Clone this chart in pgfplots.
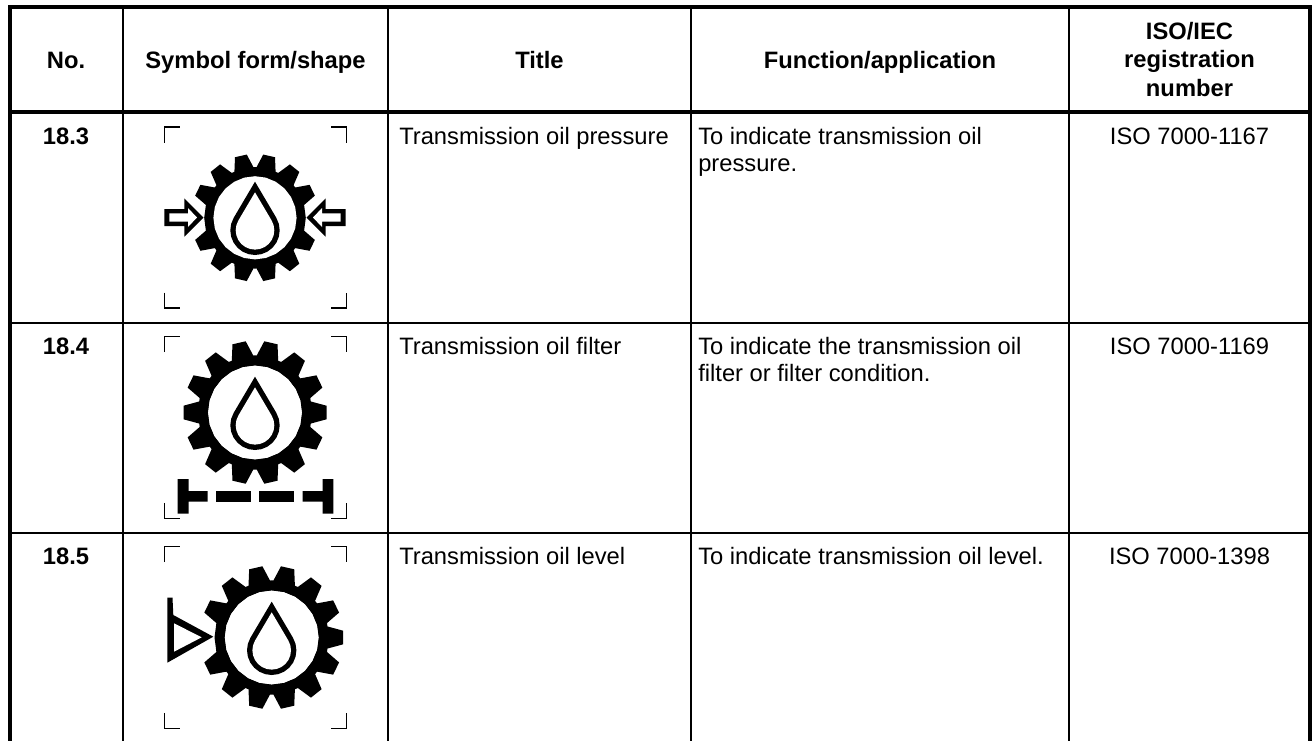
\documentclass[border=0pt]{standalone}
\usepackage{pgfplots}
\usepackage{pgfplotstable}
\usepackage{fontspec}
\setmainfont{Liberation Sans}
\pgfplotsset{compat=1.18}
% gear teeth, unit radius, y up
\pgfplotstableread{
x y
0.7542 0.1856
0.9422 0.3483
0.8598 0.5195
0.6153 0.4739
0.5989 0.4944
0.6978 0.7226
0.5492 0.8411
0.3488 0.6940
0.3251 0.7054
0.3151 0.9538
0.1299 0.9961
0.0131 0.7766
-0.0131 0.7766
-0.1299 0.9961
-0.3151 0.9538
-0.3251 0.7054
-0.3488 0.6940
-0.5492 0.8411
-0.6978 0.7226
-0.5989 0.4944
-0.6153 0.4739
-0.8598 0.5195
-0.9422 0.3483
-0.7542 0.1856
}\teethUp
\pgfplotstableread{
x y
0.7542 -0.1856
0.9422 -0.3483
0.8598 -0.5195
0.6153 -0.4739
0.5989 -0.4944
0.6978 -0.7226
0.5492 -0.8411
0.3488 -0.6940
0.3251 -0.7054
0.3151 -0.9538
0.1299 -0.9961
0.0131 -0.7766
-0.0131 -0.7766
-0.1299 -0.9961
-0.3151 -0.9538
-0.3251 -0.7054
-0.3488 -0.6940
-0.5492 -0.8411
-0.6978 -0.7226
-0.5989 -0.4944
-0.6153 -0.4739
-0.8598 -0.5195
-0.9422 -0.3483
-0.7542 -0.1856
}\teethDown
\pgfplotstableread{
x y
0.76 -0.16
1.0 -0.095
1.0 0.095
0.76 0.16
}\toothRight
\pgfplotstableread{
x y
-0.76 -0.16
-1.0 -0.095
-1.0 0.095
-0.76 0.16
}\toothLeft
% unit circle, 24 points
\pgfplotstableread{
x y
1.0000 0.0000
0.9659 0.2588
0.8660 0.5000
0.7071 0.7071
0.5000 0.8660
0.2588 0.9659
0.0000 1.0000
-0.2588 0.9659
-0.5000 0.8660
-0.7071 0.7071
-0.8660 0.5000
-0.9659 0.2588
-1.0000 0.0000
-0.9659 -0.2588
-0.8660 -0.5000
-0.7071 -0.7071
-0.5000 -0.8660
-0.2588 -0.9659
0.0000 -1.0000
0.2588 -0.9659
0.5000 -0.8660
0.7071 -0.7071
0.8660 -0.5000
0.9659 -0.2588
}\unitcircle
% drop, circle part radius one
\pgfplotstableread{
x y
0.0000 1.9680
0.8616 0.5075
0.9659 0.2588
1.0000 0.0000
0.9659 -0.2588
0.8660 -0.5000
0.7071 -0.7071
0.5000 -0.8660
0.2588 -0.9659
0.0000 -1.0000
-0.2588 -0.9659
-0.5000 -0.8660
-0.7071 -0.7071
-0.8660 -0.5000
-0.9659 -0.2588
-1.0000 0.0000
-0.9659 0.2588
-0.8616 0.5075
}\drop
\pgfplotsset{
  blk/.style={draw=none,fill=black,mark=none},
  wht/.style={draw=none,fill=white,mark=none},
}
\newcommand{\shape}[5]{% style, table, cx, cy, scale
  \addplot[#1] table[x expr={#3+#5*\thisrow{x}},y expr={#4-#5*\thisrow{y}}] {#2} -- cycle;
}
\newcommand{\gearbody}[3]{% cx cy R
  \shape{blk}{\teethUp}{#1}{#2}{#3}
  \shape{blk}{\teethDown}{#1}{#2}{#3}
  \shape{blk}{\unitcircle}{#1}{#2}{0.80*#3}
  \shape{wht}{\unitcircle}{#1}{#2}{0.655*#3}
}
\newcommand{\corners}[2]{% top y, bottom y
  \addplot[black,line width=1pt,mark=none] coordinates {(164.5,#1+15.5) (164.5,#1) (180,#1)};
  \addplot[black,line width=1pt,mark=none] coordinates {(331,#1) (346.5,#1) (346.5,#1+15.5)};
  \addplot[black,line width=1pt,mark=none] coordinates {(164.5,#2-15.5) (164.5,#2) (180,#2)};
  \addplot[black,line width=1pt,mark=none] coordinates {(331,#2) (346.5,#2) (346.5,#2-15.5)};
}
\newcommand{\celltext}[3]{\node[anchor=base,inner sep=0pt,font=\fontsize{17.8pt}{20pt}\selectfont] at (axis cs:#1,#2) {#3};}
\newcommand{\cellleft}[3]{\node[anchor=base west,inner sep=0pt,font=\fontsize{17.8pt}{20pt}\selectfont] at (axis cs:#1,#2) {#3};}
\begin{document}
\begin{tikzpicture}
\begin{axis}[
  scale only axis,width=985.5pt,height=555pt,
  xmin=0,xmax=1314,ymin=0,ymax=740,y dir=reverse,
  hide axis,clip=true,
]
\path[use as bounding box] (axis cs:0,0) rectangle (axis cs:1314,740);
% table rules
\addplot[black,line width=3pt,mark=none] coordinates {(10.3,745) (10.3,7) (1310,7) (1310,745)};
\addplot[black,line width=3pt,mark=none] coordinates {(8,111.7) (1312,111.7)};
\addplot[black,line width=1.5pt,mark=none] coordinates {(10,322.7) (1310,322.7)};
\addplot[black,line width=1.5pt,mark=none] coordinates {(10,532.7) (1310,532.7)};
\addplot[black,line width=1.5pt,mark=none] coordinates {(122.7,7) (122.7,745)};
\addplot[black,line width=1.5pt,mark=none] coordinates {(388.3,7) (388.3,745)};
\addplot[black,line width=1.5pt,mark=none] coordinates {(691,7) (691,745)};
\addplot[black,line width=1.5pt,mark=none] coordinates {(1069,7) (1069,745)};
% corner marks
\corners{127}{308}
\corners{336.7}{518.3}
\corners{546.7}{728.3}
% symbol 18.3
\gearbody{255}{217.8}{63.5}
\shape{blk}{\drop}{255}{230.3}{24.7}
\shape{wht}{\drop}{255}{230.3}{19.3}
\addplot[blk] coordinates {(164.3,209) (184.3,209) (184.3,198.3) (203.5,217.5) (184.3,236.7) (184.3,226) (164.3,226)} -- cycle;
\addplot[wht] coordinates {(169.3,213.3) (188,213.3) (188,208) (197,217.5) (188,227) (188,221.7) (169.3,221.7)} -- cycle;
\addplot[blk] coordinates {(345.7,209) (325.7,209) (325.7,198.3) (306.5,217.5) (325.7,236.7) (325.7,226) (345.7,226)} -- cycle;
\addplot[wht] coordinates {(340.7,213.3) (322,213.3) (322,208) (313,217.5) (322,227) (322,221.7) (340.7,221.7)} -- cycle;
% symbol 18.4
\gearbody{255}{412.5}{71.5}
\shape{blk}{\toothRight}{255}{412.5}{71.5}
\shape{blk}{\toothLeft}{255}{412.5}{71.5}
\shape{wht}{\unitcircle}{255}{412.5}{46.8}
\shape{blk}{\drop}{255}{425.3}{24.7}
\shape{wht}{\drop}{255}{425.3}{19.3}
\addplot[blk] coordinates {(177.7,479) (188.7,479) (188.7,491) (207.7,491) (207.7,501.7) (188.7,501.7) (188.7,513.7) (177.7,513.7)} -- cycle;
\addplot[blk] coordinates {(216,491) (251,491) (251,501.7) (216,501.7)} -- cycle;
\addplot[blk] coordinates {(259.3,491) (294.3,491) (294.3,501.7) (259.3,501.7)} -- cycle;
\addplot[blk] coordinates {(302.7,491) (322.7,491) (322.7,479) (333.3,479) (333.3,513.7) (322.7,513.7) (322.7,501.7) (302.7,501.7)} -- cycle;
% symbol 18.5
\gearbody{271.7}{637.5}{71.5}
\shape{blk}{\toothRight}{271.7}{637.5}{71.5}
\shape{wht}{\unitcircle}{271.7}{637.5}{46.8}
\shape{blk}{\drop}{271.7}{650.3}{24.7}
\shape{wht}{\drop}{271.7}{650.3}{19.3}
\addplot[blk] coordinates {(167.3,597.7) (172.5,597.7) (173.3,615) (213.3,636.7) (167.3,662.7)} -- cycle;
\addplot[wht] coordinates {(174,623.3) (174,651.7) (201.7,637.3)} -- cycle;
% header
\celltext{66}{68.5}{\textbf{No.}}
\celltext{255.5}{68.5}{\textbf{Symbol form/shape}}
\celltext{539.5}{68.5}{\textbf{Title}}
\celltext{880}{68.5}{\textbf{Function/application}}
\celltext{1189.5}{39}{\textbf{ISO/IEC}}
\celltext{1189.5}{67.5}{\textbf{registration}}
\celltext{1189.5}{96}{\textbf{number}}
% row 18.3
\celltext{66}{144}{\textbf{18.3}}
\cellleft{399}{144}{Transmission oil pressure}
\cellleft{698}{144}{To indicate transmission oil}
\cellleft{698}{171}{pressure.}
\celltext{1189.5}{144}{ISO 7000-1167}
% row 18.4
\celltext{66}{354.5}{\textbf{18.4}}
\cellleft{399}{354.5}{Transmission oil filter}
\cellleft{698}{354.5}{To indicate the transmission oil}
\cellleft{698}{381.5}{filter or filter condition.}
\celltext{1189.5}{354.5}{ISO 7000-1169}
% row 18.5
\celltext{66}{564.5}{\textbf{18.5}}
\cellleft{399}{564.5}{Transmission oil level}
\cellleft{698}{564.5}{To indicate transmission oil level.}
\celltext{1189.5}{564.5}{ISO 7000-1398}
\end{axis}
\end{tikzpicture}
\end{document}
